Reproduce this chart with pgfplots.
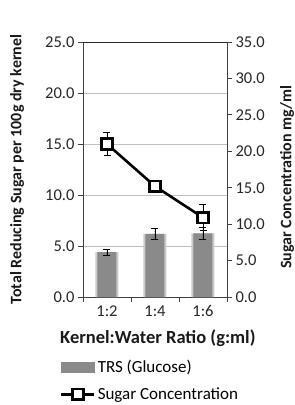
\documentclass[border=0pt]{standalone}
\usepackage{fontspec}
\setmainfont{Carlito}
\usepackage{pgfplots}
\pgfplotsset{compat=1.18}
\definecolor{barg}{HTML}{8A8A8A}
\definecolor{gridg}{HTML}{BFBFBF}
\definecolor{axg}{HTML}{404040}
\pgfplotsset{
  myaxis/.style={
    at={(83pt,108pt)}, anchor=south west,
    scale only axis, width=144pt, height=255pt,
    xmin=-0.5, xmax=2.5,
    tick align=outside,
    major tick length=5pt, minor tick length=5pt,
    tick style={axg, line width=0.8pt},
    axis line style={-, axg, line width=0.8pt},
    /pgf/number format/assume math mode=true,
    yticklabel style={/pgf/number format/.cd, fixed, fixed zerofill, precision=1},
    tick label style={font=\fontsize{16.5}{19}\selectfont, text=black!85},
  }
}
\begin{document}
\begin{tikzpicture}[x=1pt,y=1pt]
\path[use as bounding box] (0,0) rectangle (295,405);
\begin{axis}[myaxis,
  ymin=0, ymax=25, ytick={0,5,...,25},
  axis x line*=bottom, axis y line*=left,
  xtick={0,1,2}, xticklabels={1:2,1:4,1:6},
  major x tick style={draw=none},
  minor xtick={-0.5,0.5,1.5,2.5},
  ymajorgrids, major grid style={gridg, line width=0.8pt},
  xlabel={Kernel:Water Ratio (g:ml)},
  ylabel={Total Reducing Sugar per 100g dry kernel},
  every axis x label/.style={at={(axis description cs:0.52,0)}, yshift=-41pt, anchor=center,
     font=\bfseries\fontsize{18.5}{21}\selectfont, text=black!90},
  every axis y label/.style={at={(axis description cs:-0.458,0.5)}, rotate=90, anchor=center,
     font=\bfseries\fontsize{16}{20}\selectfont, text=black!90},
]
\addplot[ybar, bar width=23pt, bar shift=0pt, fill=barg!45, draw=none] coordinates {(0,4.4) (1,6.2) (2,6.25)};
\addplot[ybar, bar width=19pt, bar shift=0pt, fill=barg, draw=none,
  error bars/.cd, y dir=both, y explicit,
  error bar style={black, line width=0.8pt},
  error mark options={rotate=90, mark size=3.5pt, black, line width=0.8pt}]
  coordinates {(0,4.4) +- (0,0.3) (1,6.2) +- (0,0.53) (2,6.25) +- (0,0.62)};
\draw[black!85, line width=0.8pt] (axis cs:-0.5,25) -- (axis cs:2.5,25);
\end{axis}
\begin{axis}[myaxis,
  ymin=0, ymax=35, ytick={0,5,...,35},
  axis y line*=right, axis x line=none,
  ylabel={Sugar Concentration mg/ml},
  every axis y label/.style={at={(axis description cs:1.417,0.47)}, rotate=90, anchor=center,
     font=\bfseries\fontsize{16}{20}\selectfont, text=black!90},
  legend style={at={(axis description cs:-0.16,-0.24)}, anchor=north west, draw=none, fill=none,
    font=\fontsize{17}{20}\selectfont, row sep=9.5pt, inner sep=0pt,
    /tikz/every even column/.style={column sep=6pt}},
  legend cell align=left,
]
\addlegendimage{legend image code/.code={\fill[barg] (0pt,-5pt) rectangle (33pt,5pt);}}
\addlegendentry{TRS (Glucose)}
\addplot[black, line width=2.6pt, mark=square*, mark size=5.3pt,
  mark options={fill=white, draw=black, line width=2.6pt},
  legend image code/.code={\draw[mark repeat=2, mark phase=2] plot coordinates {(0pt,0pt) (16.5pt,0pt) (33pt,0pt)};},
  error bars/.cd, y dir=both, y explicit,
  error bar style={black, line width=0.8pt},
  error mark options={rotate=90, mark size=3.5pt, black, line width=0.8pt}]
  coordinates {(0,21.0) +- (0,1.6) (1,15.2) +- (0,0.3) (2,10.9) +- (0,1.8)};
\addlegendentry{Sugar Concentration}
\end{axis}
\end{tikzpicture}
\end{document}
